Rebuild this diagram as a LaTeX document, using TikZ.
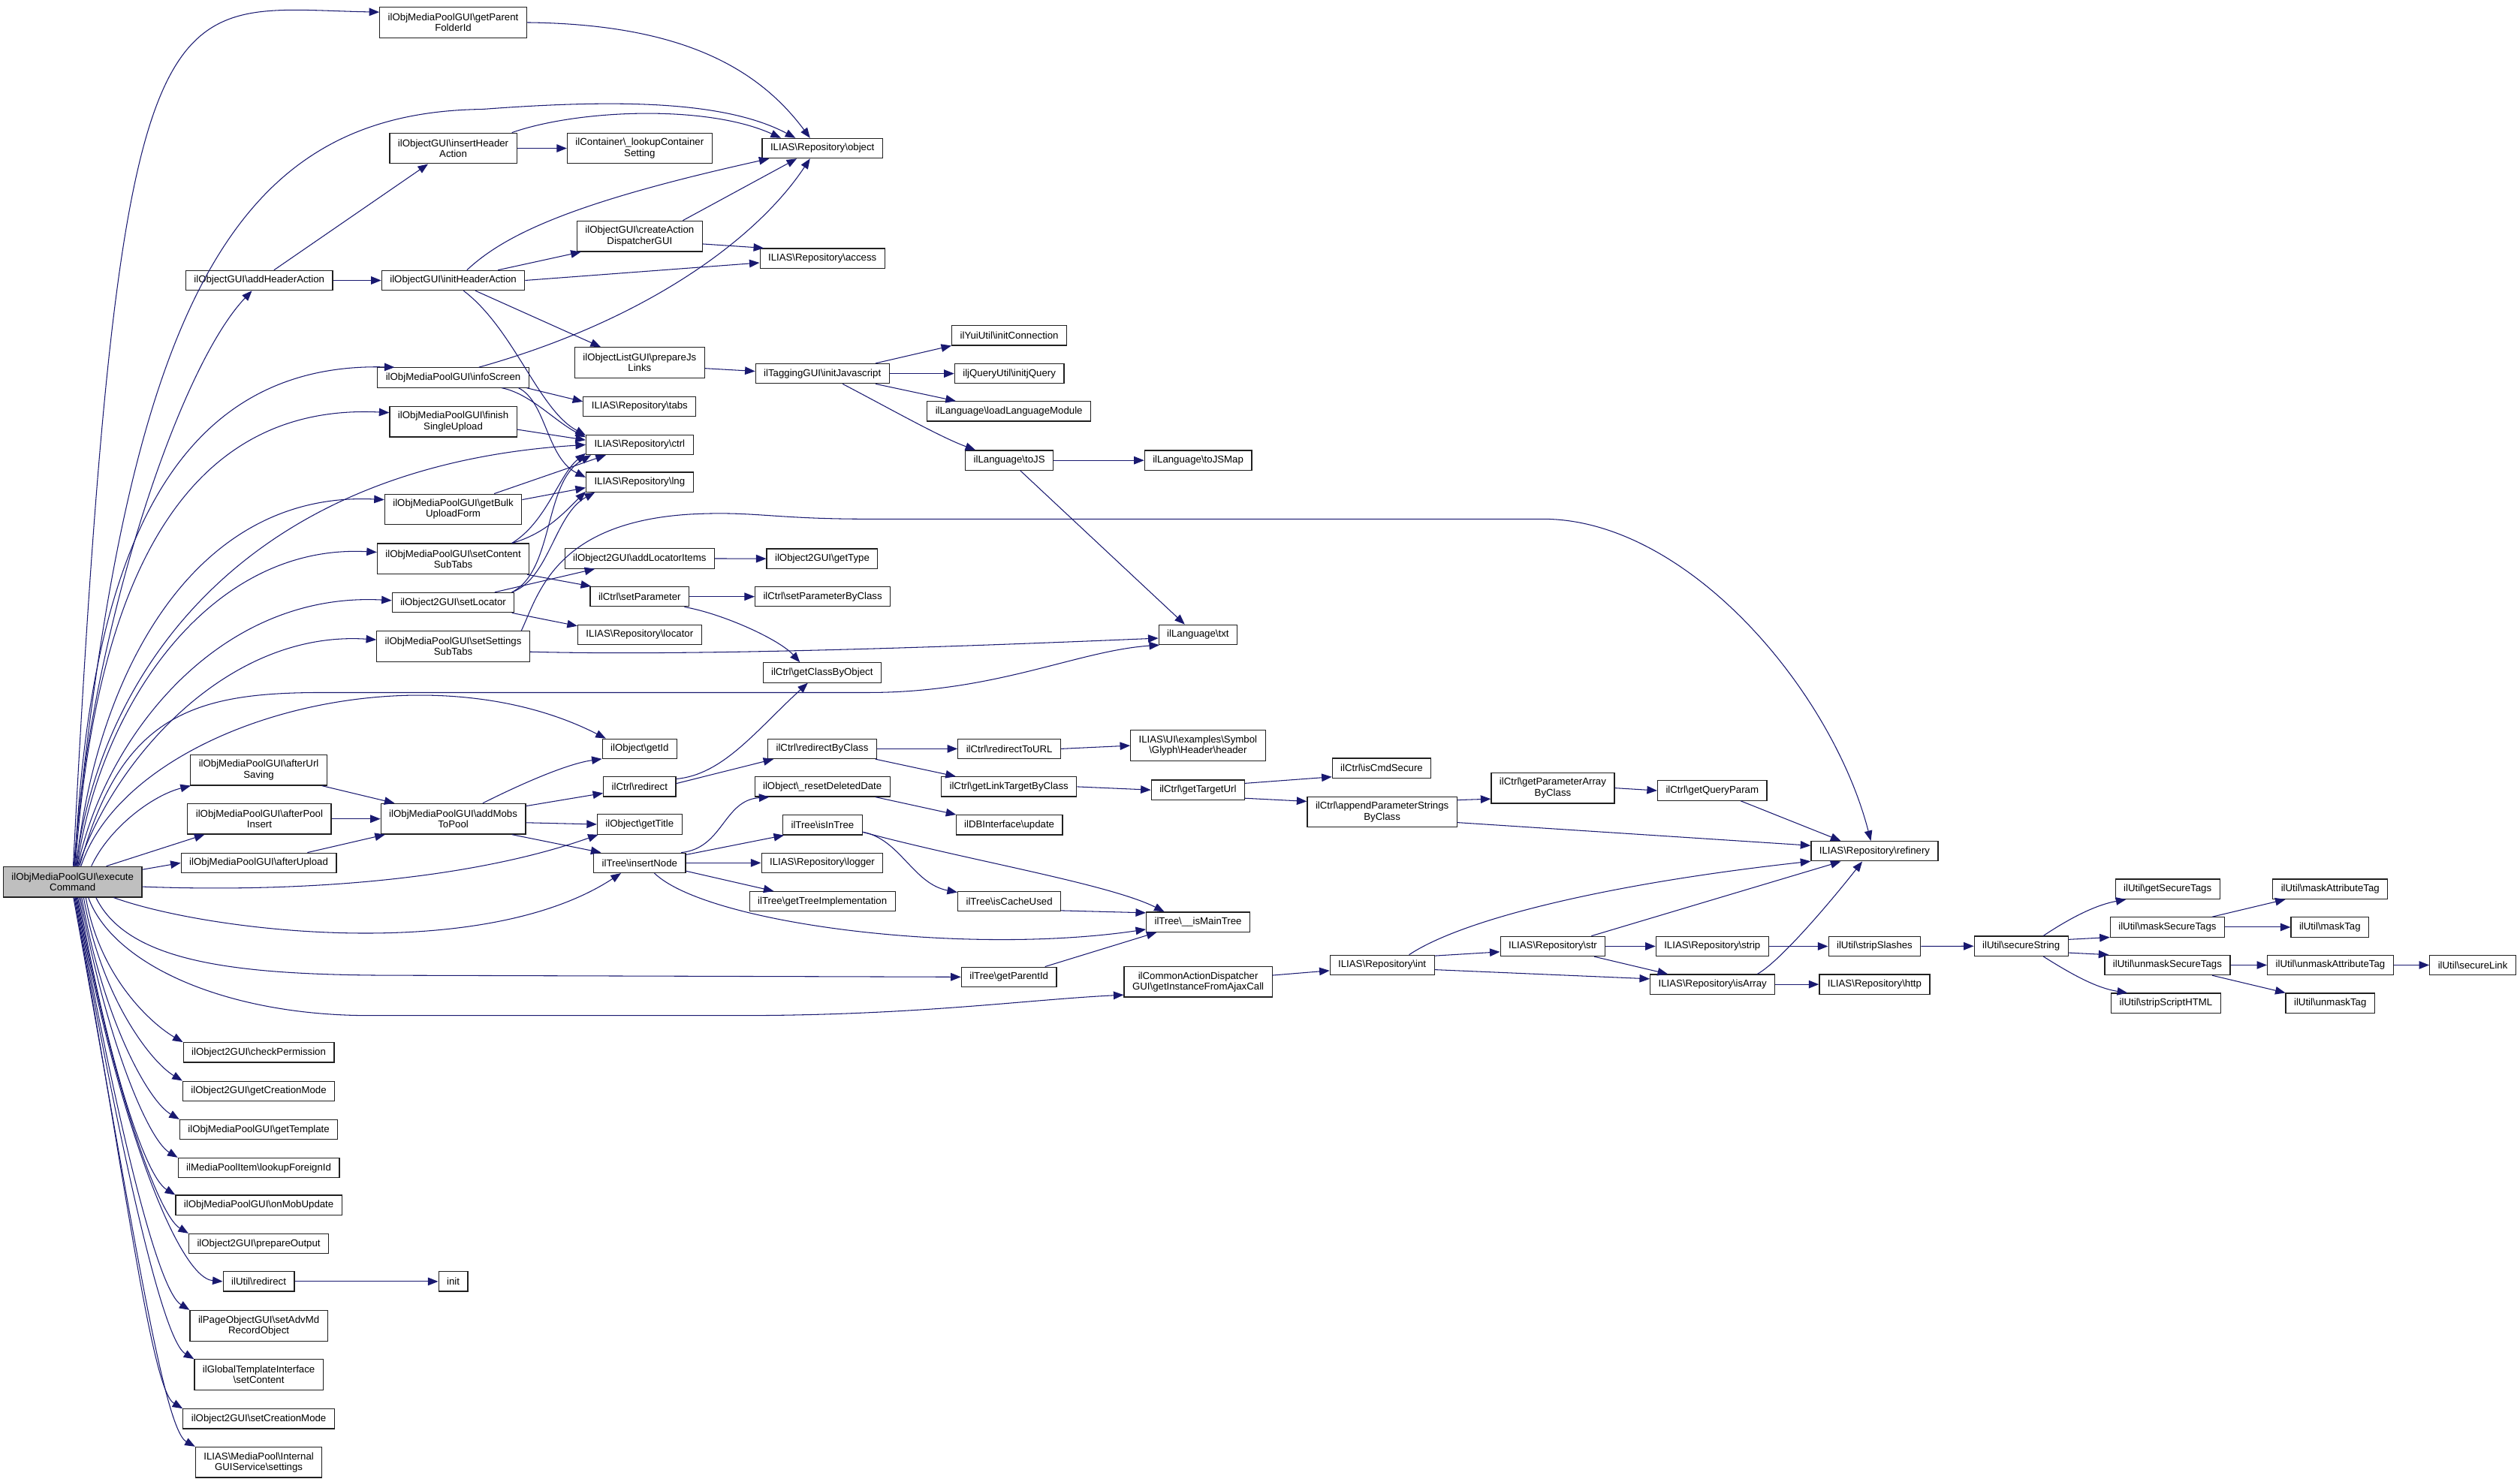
\documentclass[tikz,border=0pt]{standalone}
\usepackage{fontspec}
\setmainfont{Liberation Sans}
\usetikzlibrary{arrows.meta}
\definecolor{callblue}{HTML}{191970}
\definecolor{rootgrey}{HTML}{BFBFBF}
\definecolor{boxline}{HTML}{202020}
\newcommand{\bsl}{\textbackslash}
\newcommand{\fnfont}{\fontsize{8.8}{9.4}\selectfont}

\begin{document}
\begin{tikzpicture}[
    x=0.05cm, y=-0.05cm,
    % ── Node styles ──────────────────────────────────────────────────────
    fnode/.style={
        draw=boxline, fill=white, line width=0.8pt,
        font=\fnfont, align=center,
        inner xsep=7.3pt, inner ysep=0pt, minimum height=0.615cm
    },
    fnode2/.style={fnode, minimum height=0.95cm},
    rootnode/.style={fnode2, fill=rootgrey},
    % ── Arrow style ──────────────────────────────────────────────────────
    callarr/.style={
        -{Triangle[length=9pt, width=7pt]},
        line width=0.7pt, draw=callblue
    }
]
\useasboundingbox (0,0) rectangle (1568,922);

% ═══════════════════════════════════════════════════════════════════════════
% Caller
% ═══════════════════════════════════════════════════════════════════════════
\node[rootnode] (exec) at (45.2,548.8) {ilObjMediaPoolGUI\bsl execute\\Command};

% ═══════════════════════════════════════════════════════════════════════════
% Column 1
% ═══════════════════════════════════════════════════════════════════════════
\node[fnode] (addHdr) at (161.3,174.5) {ilObjectGUI\bsl addHeaderAction};
\node[fnode2] (urlSaving) at (161,479.2) {ilObjMediaPoolGUI\bsl afterUrl\\Saving};
\node[fnode2] (poolInsert) at (161.4,509.6) {ilObjMediaPoolGUI\bsl afterPool\\Insert};
\node[fnode] (afterUpload) at (161,537) {ilObjMediaPoolGUI\bsl afterUpload};
\node[fnode] (checkPerm) at (161,655) {ilObject2GUI\bsl checkPermission};
\node[fnode] (getCreation) at (161,679) {ilObject2GUI\bsl getCreationMode};
\node[fnode] (getTemplate) at (161,703) {ilObjMediaPoolGUI\bsl getTemplate};
\node[fnode] (lookupForeign) at (161,726.8) {ilMediaPoolItem\bsl lookupForeignId};
\node[fnode] (onMobUpdate) at (161,750) {ilObjMediaPoolGUI\bsl onMobUpdate};
\node[fnode] (prepOutput) at (161,774) {ilObject2GUI\bsl prepareOutput};
\node[fnode] (utilRedirect) at (161,797.5) {ilUtil\bsl redirect};
\node[fnode2] (advMd) at (161,825) {ilPageObjectGUI\bsl setAdvMd\\RecordObject};
\node[fnode2] (setContent) at (161,855.5) {ilGlobalTemplateInterface\\\bsl setContent};
\node[fnode] (setCreation) at (161,883) {ilObject2GUI\bsl setCreationMode};
\node[fnode2] (guiSettings) at (161,910) {ILIAS\bsl MediaPool\bsl Internal\\GUIService\bsl settings};

% ═══════════════════════════════════════════════════════════════════════════
% Column 2
% ═══════════════════════════════════════════════════════════════════════════
\node[fnode2] (parentFolder) at (282,14) {ilObjMediaPoolGUI\bsl getParent\\FolderId};
\node[fnode2] (insHdr) at (282,92.3) {ilObjectGUI\bsl insertHeader\\Action};
\node[fnode] (initHdr) at (282,174.5) {ilObjectGUI\bsl initHeaderAction};
\node[fnode] (infoScreen) at (282,235) {ilObjMediaPoolGUI\bsl infoScreen};
\node[fnode2] (finishUpload) at (282,262.4) {ilObjMediaPoolGUI\bsl finish\\SingleUpload};
\node[fnode2] (bulkForm) at (282,317) {ilObjMediaPoolGUI\bsl getBulk\\UploadForm};
\node[fnode2] (contentTabs) at (282,347.8) {ilObjMediaPoolGUI\bsl setContent\\SubTabs};
\node[fnode] (setLocator) at (282,375) {ilObject2GUI\bsl setLocator};
\node[fnode2] (settingsTabs) at (282,402.3) {ilObjMediaPoolGUI\bsl setSettings\\SubTabs};
\node[fnode2] (addMobs) at (282,509.6) {ilObjMediaPoolGUI\bsl addMobs\\ToPool};
\node[fnode] (initNode) at (282,797.5) {init};

% ═══════════════════════════════════════════════════════════════════════════
% Column 3
% ═══════════════════════════════════════════════════════════════════════════
\node[fnode2] (lookupCont) at (398,92.3) {ilContainer\bsl\_lookupContainer\\Setting};
\node[fnode2] (createDisp) at (398,147) {ilObjectGUI\bsl createAction\\DispatcherGUI};
\node[fnode2] (prepJs) at (398,225.7) {ilObjectListGUI\bsl prepareJs\\Links};
\node[fnode] (repoTabs) at (398,253) {ILIAS\bsl Repository\bsl tabs};
\node[fnode] (repoCtrl) at (398,276.8) {ILIAS\bsl Repository\bsl ctrl};
\node[fnode] (repoLng) at (398,300) {ILIAS\bsl Repository\bsl lng};
\node[fnode] (addLocItems) at (398,347.6) {ilObject2GUI\bsl addLocatorItems};
\node[fnode] (setParam) at (398,371.3) {ilCtrl\bsl setParameter};
\node[fnode] (repoLocator) at (398,395) {ILIAS\bsl Repository\bsl locator};
\node[fnode] (getId) at (398,466) {ilObject\bsl getId};
\node[fnode] (ctrlRedirect) at (398,489.6) {ilCtrl\bsl redirect};
\node[fnode] (getTitle) at (398,513) {ilObject\bsl getTitle};
\node[fnode] (insertNode) at (398,537) {ilTree\bsl insertNode};

% ═══════════════════════════════════════════════════════════════════════════
% Column 4
% ═══════════════════════════════════════════════════════════════════════════
\node[fnode] (repoObject) at (511.7,92.3) {ILIAS\bsl Repository\bsl object};
\node[fnode] (repoAccess) at (511.7,160.8) {ILIAS\bsl Repository\bsl access};
\node[fnode] (tagJs) at (511.7,232.5) {ilTaggingGUI\bsl initJavascript};
\node[fnode] (getType) at (511.6,347.7) {ilObject2GUI\bsl getType};
\node[fnode] (setParamClass) at (511.9,371.3) {ilCtrl\bsl setParameterByClass};
\node[fnode] (classByObj) at (511.5,418.6) {ilCtrl\bsl getClassByObject};
\node[fnode] (redirByClass) at (511.6,466) {ilCtrl\bsl redirectByClass};
\node[fnode] (resetDate) at (511.7,489.6) {ilObject\bsl\_resetDeletedDate};
\node[fnode] (isInTree) at (511.8,513.4) {ilTree\bsl isInTree};
\node[fnode] (repoLogger) at (511.6,537) {ILIAS\bsl Repository\bsl logger};
\node[fnode] (treeImpl) at (511.7,561) {ilTree\bsl getTreeImplementation};

% ═══════════════════════════════════════════════════════════════════════════
% Column 5
% ═══════════════════════════════════════════════════════════════════════════
\node[fnode] (yuiConn) at (628,208.8) {ilYuiUtil\bsl initConnection};
\node[fnode] (jqInit) at (628,232.5) {iljQueryUtil\bsl initjQuery};
\node[fnode] (loadLang) at (627.8,256) {ilLanguage\bsl loadLanguageModule};
\node[fnode] (toJs) at (628,286.5) {ilLanguage\bsl toJS};
\node[fnode] (redirUrl) at (628,466) {ilCtrl\bsl redirectToURL};
\node[fnode] (linkTarget) at (627.8,489.6) {ilCtrl\bsl getLinkTargetByClass};
\node[fnode] (dbUpdate) at (628,513.4) {ilDBInterface\bsl update};
\node[fnode] (cacheUsed) at (628,561) {ilTree\bsl isCacheUsed};
\node[fnode] (parentId) at (627.8,608) {ilTree\bsl getParentId};

% ═══════════════════════════════════════════════════════════════════════════
% Column 6
% ═══════════════════════════════════════════════════════════════════════════
\node[fnode] (toJsMap) at (745.5,286.5) {ilLanguage\bsl toJSMap};
\node[fnode] (langTxt) at (745.4,395) {ilLanguage\bsl txt};
\node[fnode2] (glyphHeader) at (745.4,464) {ILIAS\bsl UI\bsl examples\bsl Symbol\\\bsl Glyph\bsl Header\bsl header};
\node[fnode] (targetUrl) at (745.4,491.6) {ilCtrl\bsl getTargetUrl};
\node[fnode] (isMainTree) at (745.5,573.8) {ilTree\bsl\_\_isMainTree};
\node[fnode2] (ajaxCall) at (745.5,611) {ilCommonActionDispatcher\\GUI\bsl getInstanceFromAjaxCall};

% ═══════════════════════════════════════════════════════════════════════════
% Columns 7 - 10
% ═══════════════════════════════════════════════════════════════════════════
\node[fnode] (cmdSecure) at (859.7,478) {ilCtrl\bsl isCmdSecure};
\node[fnode2] (appendParams) at (860,505.3) {ilCtrl\bsl appendParameterStrings\\ByClass};
\node[fnode] (repoInt) at (860,600.6) {ILIAS\bsl Repository\bsl int};
\node[fnode2] (paramArray) at (966.2,490.4) {ilCtrl\bsl getParameterArray\\ByClass};
\node[fnode] (repoStr) at (966.2,588.9) {ILIAS\bsl Repository\bsl str};
\node[fnode] (queryParam) at (1065.4,492) {ilCtrl\bsl getQueryParam};
\node[fnode] (repoStrip) at (1065.4,588.9) {ILIAS\bsl Repository\bsl strip};
\node[fnode] (repoIsArray) at (1065.6,612.6) {ILIAS\bsl Repository\bsl isArray};
\node[fnode] (repoRefinery) at (1166.4,529.7) {ILIAS\bsl Repository\bsl refinery};
\node[fnode] (stripSlashes) at (1166.4,588.9) {ilUtil\bsl stripSlashes};
\node[fnode] (repoHttp) at (1166.4,612.6) {ILIAS\bsl Repository\bsl http};

% ═══════════════════════════════════════════════════════════════════════════
% ilUtil cluster
% ═══════════════════════════════════════════════════════════════════════════
\node[fnode] (secureString) at (1257.6,588.8) {ilUtil\bsl secureString};
\node[fnode] (getSecTags) at (1348.7,553.3) {ilUtil\bsl getSecureTags};
\node[fnode] (maskSecTags) at (1348.6,577) {ilUtil\bsl maskSecureTags};
\node[fnode] (unmaskSecTags) at (1348.6,600.6) {ilUtil\bsl unmaskSecureTags};
\node[fnode] (stripScript) at (1347.7,624.3) {ilUtil\bsl stripScriptHTML};
\node[fnode] (maskAttr) at (1449.9,553.3) {ilUtil\bsl maskAttributeTag};
\node[fnode] (maskTag) at (1449.7,577) {ilUtil\bsl maskTag};
\node[fnode] (unmaskAttr) at (1450,600.6) {ilUtil\bsl unmaskAttributeTag};
\node[fnode] (unmaskTag) at (1449.9,624.3) {ilUtil\bsl unmaskTag};
\node[fnode] (secureLink) at (1538.6,600.6) {ilUtil\bsl secureLink};

% ═══════════════════════════════════════════════════════════════════════════
% Calls from the caller
% ═══════════════════════════════════════════════════════════════════════════
\draw[callarr] (exec.88) .. controls (75,-30) and (100,5) .. (parentFolder.172);
\draw[callarr] (exec.86) .. controls (80,180) and (150,70) .. (300,68)
    .. controls (380,62) and (450,62) .. (repoObject.159);
\draw[callarr] (exec.84) .. controls (55,400) and (110,230) .. (addHdr.235);
\draw[callarr] (exec.82) .. controls (55,360) and (100,225) .. (infoScreen.170);
\draw[callarr] (exec.80) .. controls (58,380) and (105,250) .. (finishUpload.172);
\draw[callarr] (exec.78) .. controls (62,420) and (150,290) .. (repoCtrl.west);
\draw[callarr] (exec.76) .. controls (58,430) and (115,305) .. (bulkForm.172);
\draw[callarr] (exec.74) .. controls (62,440) and (130,338) .. (contentTabs.175);
\draw[callarr] (exec.72) .. controls (65,460) and (135,368) .. (setLocator.178);
\draw[callarr] (exec.70) .. controls (70,475) and (140,392) .. (settingsTabs.175);
\draw[callarr] (exec.66) .. controls (75,445) and (120,431) .. (200,431) -- (540,431)
    .. controls (620,431) and (670,405) .. (langTxt.195);
\draw[callarr] (exec.62) .. controls (80,450) and (260,400) .. (getId.163);
\draw[callarr] (exec.40) .. controls (68,515) and (95,495) .. (urlSaving.193);
\draw[callarr] (exec.25) -- (poolInsert.196);
\draw[callarr] (exec.10) -- (afterUpload.west);
\draw[callarr] (exec.-4) .. controls (200,556) and (300,545) .. (getTitle.194);
\draw[callarr] (exec.-21) .. controls (130,580) and (300,600) .. (insertNode.209);
\draw[callarr] (exec.-34) .. controls (80,600) and (150,607) .. (250,607) -- (parentId.west);
\draw[callarr] (exec.-45) .. controls (70,600) and (140,632) .. (230,632) -- (460,632)
    .. controls (570,632) and (640,622) .. (ajaxCall.190);
\draw[callarr] (exec.-50) .. controls (62,608) and (94,637) .. (checkPerm.north west);
\draw[callarr] (exec.-55) .. controls (63,621) and (94,661) .. (getCreation.north west);
\draw[callarr] (exec.-60) .. controls (64,634) and (92,685) .. (getTemplate.north west);
\draw[callarr] (exec.-64) .. controls (66,647) and (92,709) .. (lookupForeign.north west);
\draw[callarr] (exec.-68) .. controls (67,660) and (90,732) .. (onMobUpdate.north west);
\draw[callarr] (exec.-72) .. controls (69,673) and (98,756) .. (prepOutput.north west);
\draw[callarr] (exec.-75) .. controls (71,690) and (110,795) .. (utilRedirect.west);
\draw[callarr] (exec.-78) .. controls (73,700) and (98,803) .. (advMd.north west);
\draw[callarr] (exec.-81) .. controls (75,717) and (101,834) .. (setContent.north west);
\draw[callarr] (exec.-84) .. controls (78,733) and (94,865) .. (setCreation.north west);
\draw[callarr] (exec.-87) .. controls (80,746) and (101,889) .. (guiSettings.north west);

% ═══════════════════════════════════════════════════════════════════════════
% Header action and info screen calls
% ═══════════════════════════════════════════════════════════════════════════
\draw[callarr] (parentFolder.east) .. controls (420,15) and (470,40) .. (repoObject.140);
\draw[callarr] (insHdr.15) .. controls (360,68) and (440,65) .. (repoObject.166);
\draw[callarr] (insHdr.east) -- (lookupCont.west);
\draw[callarr] (addHdr.35) -- (insHdr.212);
\draw[callarr] (addHdr.east) -- (initHdr.west);
\draw[callarr] (initHdr.37) .. controls (315,145) and (360,125) .. (repoObject.191);
\draw[callarr] (initHdr.13) -- (createDisp.195);
\draw[callarr] (initHdr.east) -- (repoAccess.184);
\draw[callarr] (initHdr.-25) -- (prepJs.158);
\draw[callarr] (initHdr.-45) .. controls (320,205) and (335,255) .. (repoCtrl.170);
\draw[callarr] (createDisp.20) -- (repoObject.202);
\draw[callarr] (createDisp.-7) -- (repoAccess.170);
\draw[callarr] (prepJs.-5) -- (tagJs.178);
\draw[callarr] (tagJs.11) -- (yuiConn.190);
\draw[callarr] (tagJs.east) -- (jqInit.west);
\draw[callarr] (tagJs.-11) -- (loadLang.169);
\draw[callarr] (tagJs.-27) .. controls (555,255) and (585,272) .. (toJs.163);
\draw[callarr] (toJs.east) -- (toJsMap.west);
\draw[callarr] (toJs.-43) -- (langTxt.142);
\draw[callarr] (infoScreen.22) .. controls (400,200) and (470,150) .. (repoObject.220);
\draw[callarr] (infoScreen.-8) -- (repoTabs.175);
\draw[callarr] (infoScreen.-12) .. controls (330,245) and (345,262) .. (repoCtrl.172);
\draw[callarr] (infoScreen.-9) .. controls (340,250) and (340,285) .. (repoLng.175);
\draw[callarr] (finishUpload.-7) -- (repoCtrl.175);

% ═══════════════════════════════════════════════════════════════════════════
% Sub tabs and locator calls
% ═══════════════════════════════════════════════════════════════════════════
\draw[callarr] (bulkForm.21) -- (repoCtrl.197);
\draw[callarr] (bulkForm.8) -- (repoLng.186);
\draw[callarr] (contentTabs.15) .. controls (340,325) and (348,295) .. (repoCtrl.189);
\draw[callarr] (contentTabs.15) .. controls (340,332) and (352,318) .. (repoLng.190);
\draw[callarr] (contentTabs.-12) -- (setParam.168);
\draw[callarr] (setLocator.14) -- (addLocItems.193);
\draw[callarr] (setLocator.-10) -- (repoLocator.172);
\draw[callarr] (setLocator.10) .. controls (345,355) and (338,300) .. (repoCtrl.192);
\draw[callarr] (setLocator.10) .. controls (342,360) and (345,320) .. (repoLng.193);
\draw[callarr] (settingsTabs.13) .. controls (335,370) and (345,325) .. (430,320)
    .. controls (470,318) and (480,323) .. (540,323) -- (960,323)
    .. controls (1050,323) and (1140,430) .. (repoRefinery.110);
\draw[callarr] (settingsTabs.-4) .. controls (420,408) and (560,404) .. (langTxt.185);
\draw[callarr] (addLocItems.east) -- (getType.west);
\draw[callarr] (setParam.east) -- (setParamClass.west);
\draw[callarr] (setParam.-13) .. controls (450,382) and (485,398) .. (classByObj.155);

% ═══════════════════════════════════════════════════════════════════════════
% Adding media objects
% ═══════════════════════════════════════════════════════════════════════════
\draw[callarr] (urlSaving.-14) -- (addMobs.165);
\draw[callarr] (poolInsert.east) -- (addMobs.west);
\draw[callarr] (afterUpload.12) -- (addMobs.193);
\draw[callarr] (addMobs.28) .. controls (330,485) and (355,475) .. (getId.195);
\draw[callarr] (addMobs.10) -- (ctrlRedirect.190);
\draw[callarr] (addMobs.-3) -- (getTitle.west);
\draw[callarr] (addMobs.-15) -- (insertNode.165);
\draw[callarr] (ctrlRedirect.5) -- (redirByClass.192);
\draw[callarr] (ctrlRedirect.12) .. controls (450,482) and (470,455) .. (classByObj.216);
\draw[callarr] (redirByClass.east) -- (redirUrl.west);
\draw[callarr] (redirByClass.-11) -- (linkTarget.169);
\draw[callarr] (redirUrl.east) -- (glyphHeader.west);
\draw[callarr] (linkTarget.east) -- (targetUrl.west);
\draw[callarr] (targetUrl.8) -- (cmdSecure.190);
\draw[callarr] (targetUrl.-10) -- (appendParams.172);
\draw[callarr] (appendParams.9) -- (paramArray.190);
\draw[callarr] (appendParams.-8) -- (repoRefinery.175);
\draw[callarr] (paramArray.east) -- (queryParam.west);
\draw[callarr] (queryParam.-20) -- (repoRefinery.163);

% ═══════════════════════════════════════════════════════════════════════════
% Tree calls
% ═══════════════════════════════════════════════════════════════════════════
\draw[callarr] (insertNode.14) .. controls (450,528) and (450,498) .. (resetDate.191);
\draw[callarr] (insertNode.10) -- (isInTree.195);
\draw[callarr] (insertNode.east) -- (repoLogger.west);
\draw[callarr] (insertNode.-10) -- (treeImpl.168);
\draw[callarr] (insertNode.-35) .. controls (440,575) and (600,595) .. (isMainTree.188);
\draw[callarr] (resetDate.-11) -- (dbUpdate.169);
\draw[callarr] (isInTree.-10) .. controls (560,522) and (568,550) .. (cacheUsed.170);
\draw[callarr] (isInTree.-10) .. controls (600,535) and (690,550) .. (isMainTree.163);
\draw[callarr] (cacheUsed.-10) -- (isMainTree.170);
\draw[callarr] (parentId.16) -- (isMainTree.194);

% ═══════════════════════════════════════════════════════════════════════════
% Request wrapper calls
% ═══════════════════════════════════════════════════════════════════════════
\draw[callarr] (ajaxCall.5) -- (repoInt.186);
\draw[callarr] (repoInt.21) .. controls (910,572) and (1000,550) .. (repoRefinery.189);
\draw[callarr] (repoInt.10) -- (repoStr.186);
\draw[callarr] (repoInt.-5) -- (repoIsArray.175);
\draw[callarr] (repoStr.15) -- (repoRefinery.197);
\draw[callarr] (repoStr.east) -- (repoStrip.west);
\draw[callarr] (repoStr.-14) -- (repoIsArray.167);
\draw[callarr] (repoIsArray.13) .. controls (1108,598) and (1140,560) .. (repoRefinery.220);
\draw[callarr] (repoIsArray.east) -- (repoHttp.west);
\draw[callarr] (repoStrip.east) -- (stripSlashes.west);
\draw[callarr] (stripSlashes.east) -- (secureString.west);
\draw[callarr] (secureString.25) .. controls (1290,570) and (1305,563) .. (getSecTags.194);
\draw[callarr] (secureString.8) -- (maskSecTags.190);
\draw[callarr] (secureString.-8) -- (unmaskSecTags.170);
\draw[callarr] (secureString.-25) .. controls (1290,607) and (1305,615) .. (stripScript.165);
\draw[callarr] (maskSecTags.13) -- (maskAttr.193);
\draw[callarr] (maskSecTags.east) -- (maskTag.west);
\draw[callarr] (unmaskSecTags.east) -- (unmaskAttr.west);
\draw[callarr] (unmaskSecTags.-13) -- (unmaskTag.167);
\draw[callarr] (unmaskAttr.east) -- (secureLink.west);
\draw[callarr] (utilRedirect.east) -- (initNode.west);

\end{tikzpicture}
\end{document}
